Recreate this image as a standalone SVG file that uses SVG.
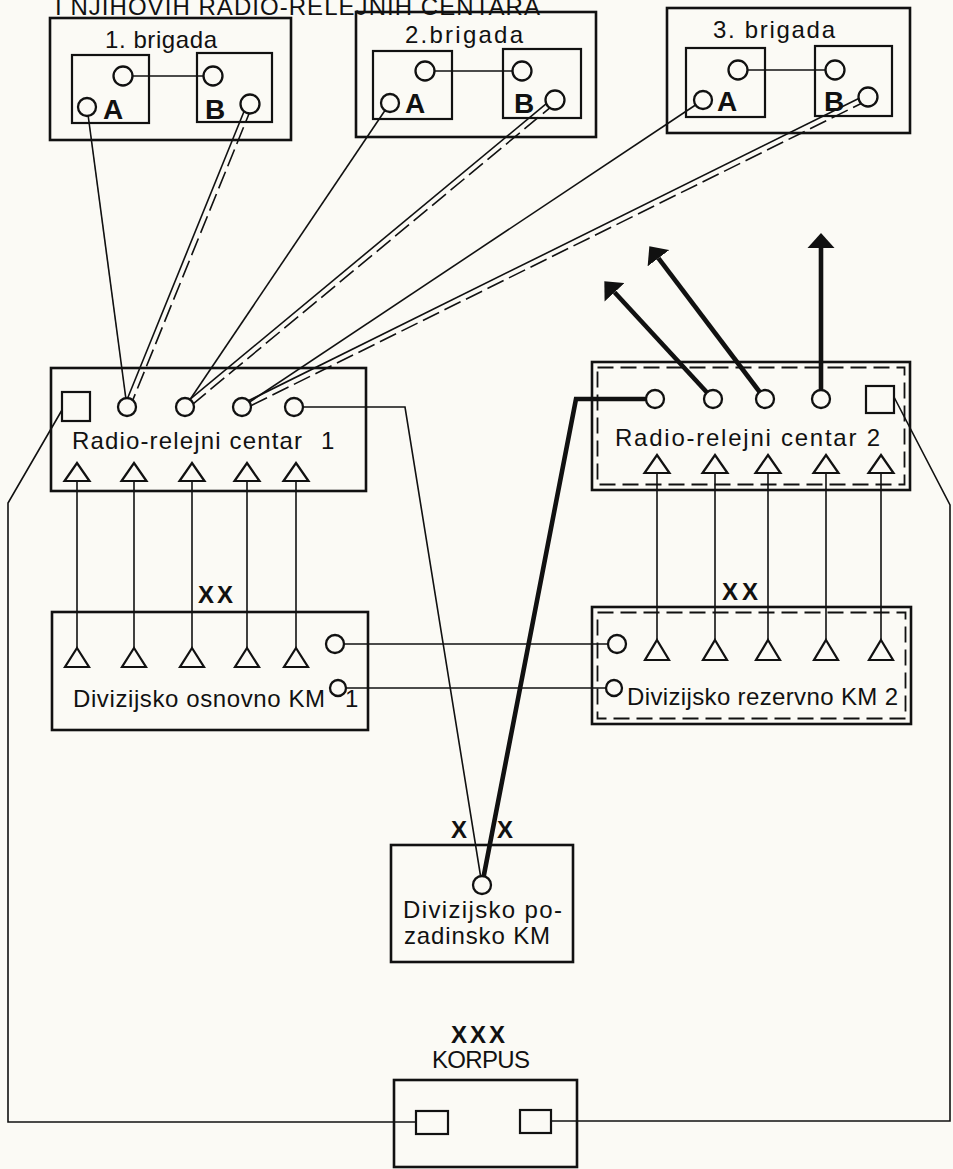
<svg xmlns="http://www.w3.org/2000/svg" width="953" height="1169" viewBox="0 0 953 1169">
<style>
.bg{fill:#fbfaf5}
.box{fill:none;stroke:#111;stroke-width:2.6}
.ibox{fill:none;stroke:#111;stroke-width:2.2}
.dbox{fill:none;stroke:#111;stroke-width:1.8;stroke-dasharray:16 7}
.c{fill:#fbfaf5;stroke:#111;stroke-width:2.3}
.tri{fill:#fbfaf5;stroke:#111;stroke-width:2.2;stroke-linejoin:miter}
.sq{fill:#fbfaf5;stroke:#111;stroke-width:2.2}
.thin{fill:none;stroke:#111;stroke-width:1.6}
.dash{fill:none;stroke:#111;stroke-width:1.6;stroke-dasharray:18 6}
.thick{fill:none;stroke:#111;stroke-width:4.6}
.t{font-family:"Liberation Sans","DejaVu Sans",sans-serif;fill:#111;font-size:24px}
.b{font-family:"Liberation Sans","DejaVu Sans",sans-serif;fill:#111;font-weight:bold}
</style>
<defs>
<marker id="ah" markerUnits="userSpaceOnUse" viewBox="0 -14 16 28" refX="0" refY="0" markerWidth="16" markerHeight="28" orient="auto">
<path d="M0,-13.5 L15,0 L0,13.5 Z" fill="#111"/>
</marker>
</defs>
<rect class="bg" x="0" y="0" width="953" height="1169"/>

<g id="title">
<text class="t" x="55" y="15" font-size="24" textLength="485" lengthAdjust="spacing">I NJIHOVIH RADIO-RELEJNIH CENTARA</text>
</g>

<g id="connectors">
<line class="thin" x1="87" y1="107" x2="127" y2="407"/>
<line class="thin" x1="390" y1="103" x2="185" y2="407"/>
<line class="thin" x1="703" y1="100" x2="242" y2="407"/>
<line class="thin" x1="247.45" y1="102.97" x2="124.45" y2="405.97"/>
<line class="dash" x1="252.55" y1="105.03" x2="129.55" y2="408.03"/>
<line class="thin" x1="553.24" y1="97.88" x2="183.24" y2="404.88"/>
<line class="dash" x1="556.76" y1="102.12" x2="186.76" y2="409.12"/>
<line class="thin" x1="866.78" y1="94.54" x2="240.78" y2="404.54"/>
<line class="dash" x1="869.22" y1="99.46" x2="243.22" y2="409.46"/>
<path class="thin" d="M294,407 H405 L482,885"/>
<path class="thick" d="M482,885 L576,399 H655"/>
<path class="thin" d="M62,410 L8,503 V1122 H416"/>
<path class="thin" d="M894,397 L950,505 V1121 H551"/>
<line class="thin" x1="335" y1="644" x2="617" y2="644"/>
<line class="thin" x1="338" y1="688" x2="614" y2="688"/>
<line class="thin" x1="77" y1="472" x2="77" y2="648"/>
<line class="thin" x1="134" y1="472" x2="134" y2="648"/>
<line class="thin" x1="192" y1="472" x2="192" y2="648"/>
<line class="thin" x1="247" y1="472" x2="247" y2="648"/>
<line class="thin" x1="296" y1="472" x2="296" y2="648"/>
<line class="thin" x1="657" y1="464" x2="657" y2="640"/>
<line class="thin" x1="715" y1="464" x2="715" y2="640"/>
<line class="thin" x1="768" y1="464" x2="768" y2="640"/>
<line class="thin" x1="826" y1="464" x2="826" y2="640"/>
<line class="thin" x1="881" y1="464" x2="881" y2="640"/>
<line class="thick" x1="713" y1="399" x2="614.5" y2="292.3" marker-end="url(#ah)"/>
<line class="thick" x1="765" y1="399" x2="658.4" y2="258.2" marker-end="url(#ah)"/>
<line class="thick" x1="821" y1="399" x2="821" y2="248" marker-end="url(#ah)"/>
</g>

<g id="brigada1">
<rect class="box" x="50" y="18" width="241" height="122"/>
<text class="t" x="105" y="48" textLength="112" lengthAdjust="spacing">1. brigada</text>
<rect class="ibox" x="72" y="55" width="77" height="68"/>
<rect class="ibox" x="197" y="53" width="75" height="69"/>
<line class="thin" x1="123" y1="76" x2="213" y2="76"/>
<circle class="c" cx="123" cy="76" r="9.5"/>
<circle class="c" cx="213" cy="76" r="9.5"/>
<circle class="c" cx="87" cy="107" r="9"/>
<circle class="c" cx="250" cy="104" r="9.5"/>
<text class="b" x="103" y="119" font-size="28">A</text>
<text class="b" x="205" y="119" font-size="28">B</text>
</g>

<g id="brigada2">
<rect class="box" x="356" y="12" width="240" height="125"/>
<text class="t" x="405" y="43" textLength="118" lengthAdjust="spacing">2.brigada</text>
<rect class="ibox" x="373" y="51" width="79" height="68"/>
<rect class="ibox" x="503" y="49" width="78" height="69"/>
<line class="thin" x1="425" y1="71" x2="522" y2="71"/>
<circle class="c" cx="425" cy="71" r="9.5"/>
<circle class="c" cx="522" cy="71" r="9.5"/>
<circle class="c" cx="390" cy="103" r="9"/>
<circle class="c" cx="555" cy="100" r="9.5"/>
<text class="b" x="405" y="113" font-size="28">A</text>
<text class="b" x="514" y="113" font-size="28">B</text>
</g>

<g id="brigada3">
<rect class="box" x="667" y="8" width="243" height="125"/>
<text class="t" x="713" y="38" textLength="122" lengthAdjust="spacing">3. brigada</text>
<rect class="ibox" x="686" y="48" width="79" height="69"/>
<rect class="ibox" x="815" y="46" width="77" height="70"/>
<line class="thin" x1="738" y1="70" x2="835" y2="70"/>
<circle class="c" cx="738" cy="70" r="9.5"/>
<circle class="c" cx="835" cy="70" r="9.5"/>
<circle class="c" cx="703" cy="100" r="9"/>
<circle class="c" cx="868" cy="97" r="9.5"/>
<text class="b" x="717" y="111" font-size="28">A</text>
<text class="b" x="824" y="111" font-size="28">B</text>
</g>

<g id="rrc1">
<rect class="box" x="51" y="368" width="315" height="123"/>
<rect class="sq" x="62" y="392" width="28" height="29"/>
<circle class="c" cx="127" cy="407" r="9"/>
<circle class="c" cx="185" cy="407" r="9"/>
<circle class="c" cx="242" cy="407" r="9"/>
<circle class="c" cx="294" cy="407" r="9"/>
<text class="t" x="72" y="449" font-size="25" textLength="230" lengthAdjust="spacing">Radio-relejni centar</text>
<text class="t" x="321" y="449" font-size="25">1</text>
<path class="tri" d="M77,463 L89.5,481 L64.5,481 Z"/>
<path class="tri" d="M134,463 L146.5,481 L121.5,481 Z"/>
<path class="tri" d="M192,463 L204.5,481 L179.5,481 Z"/>
<path class="tri" d="M247,463 L259.5,481 L234.5,481 Z"/>
<path class="tri" d="M296,463 L308.5,481 L283.5,481 Z"/>
</g>

<g id="km1">
<text class="b" x="198" y="603" font-size="24" letter-spacing="3">XX</text>
<rect class="box" x="52" y="612" width="316" height="118"/>
<path class="tri" d="M77,648 L89,667 L65,667 Z"/>
<path class="tri" d="M134,648 L146,667 L122,667 Z"/>
<path class="tri" d="M192,648 L204,667 L180,667 Z"/>
<path class="tri" d="M247,648 L259,667 L235,667 Z"/>
<path class="tri" d="M296,648 L308,667 L284,667 Z"/>
<text class="t" x="73" y="707" textLength="252" lengthAdjust="spacing">Divizijsko osnovno KM</text>
<text class="t" x="345" y="707">1</text>
<circle class="c" cx="335" cy="644" r="9"/>
<circle class="c" cx="338" cy="688" r="8"/>
</g>

<g id="rrc2">
<rect class="box" x="592" y="362" width="318" height="128"/>
<rect class="dbox" x="597.5" y="367.5" width="307" height="117"/>
<circle class="c" cx="655" cy="399" r="9"/>
<circle class="c" cx="713" cy="399" r="9"/>
<circle class="c" cx="765" cy="399" r="9"/>
<circle class="c" cx="821" cy="399" r="9"/>
<rect class="sq" x="866" y="386" width="28" height="27"/>
<text class="t" x="615" y="446" font-size="25" textLength="265" lengthAdjust="spacing">Radio-relejni centar 2</text>
<path class="tri" d="M657,455 L669.5,473 L644.5,473 Z"/>
<path class="tri" d="M715,455 L727.5,473 L702.5,473 Z"/>
<path class="tri" d="M768,455 L780.5,473 L755.5,473 Z"/>
<path class="tri" d="M826,455 L838.5,473 L813.5,473 Z"/>
<path class="tri" d="M881,455 L893.5,473 L868.5,473 Z"/>
</g>

<g id="km2">
<text class="b" x="722" y="600" font-size="24" letter-spacing="4">XX</text>
<rect class="box" x="592" y="607" width="319" height="117"/>
<rect class="dbox" x="597.5" y="612.5" width="308" height="106"/>
<circle class="c" cx="617" cy="644" r="9"/>
<circle class="c" cx="614" cy="688" r="8"/>
<path class="tri" d="M657,640 L669,660 L645,660 Z"/>
<path class="tri" d="M715,640 L727,660 L703,660 Z"/>
<path class="tri" d="M768,640 L780,660 L756,660 Z"/>
<path class="tri" d="M826,640 L838,660 L814,660 Z"/>
<path class="tri" d="M881,640 L893,660 L869,660 Z"/>
<text class="t" x="627" y="705" textLength="271" lengthAdjust="spacing">Divizijsko rezervno KM 2</text>
</g>

<g id="pozadinsko">
<text class="b" x="451" y="838" font-size="24">X</text>
<text class="b" x="497" y="838" font-size="24">X</text>
<rect class="box" x="391" y="845" width="182" height="117"/>
<circle class="c" cx="482" cy="885" r="9"/>
<text class="t" x="403" y="918" font-size="22" textLength="159" lengthAdjust="spacing">Divizijsko po-</text>
<text class="t" x="404" y="944" font-size="22" textLength="146" lengthAdjust="spacing">zadinsko KM</text>
</g>

<g id="korpus">
<text class="b" x="451" y="1043" font-size="24" letter-spacing="3">XXX</text>
<text class="t" x="432" y="1068" font-size="21" textLength="98" lengthAdjust="spacing">KORPUS</text>
<rect class="box" x="394" y="1080" width="183" height="87"/>
<rect class="sq" x="416" y="1111" width="32" height="23"/>
<rect class="sq" x="520" y="1110" width="31" height="23"/>
</g>
</svg>
